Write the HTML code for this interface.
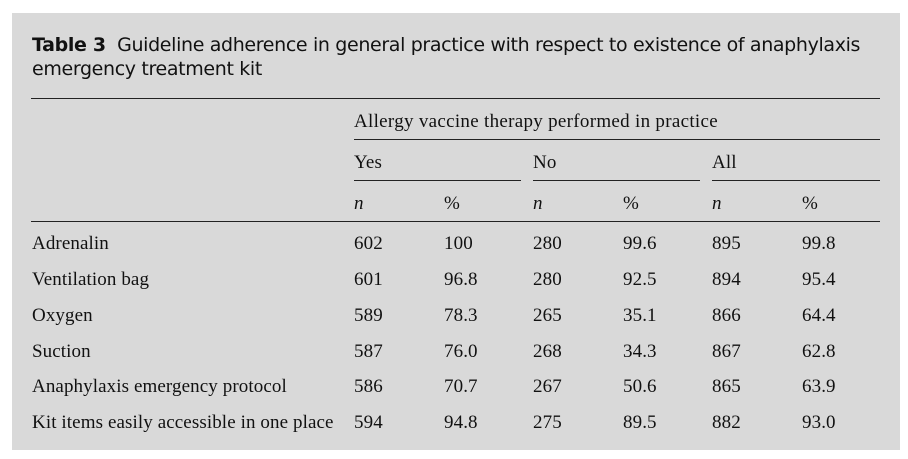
<!DOCTYPE html>
<html><head><style>
body{margin:0;background:#fff;width:908px;height:459px;position:relative;overflow:hidden}
#box{position:absolute;left:12px;top:13px;width:888px;height:437px;background:#d9d9d9}
.t{position:absolute;font-family:"Liberation Serif",serif;font-size:19px;letter-spacing:0.1px;color:#111;white-space:nowrap;line-height:1}
.h{position:absolute;font-family:"DejaVu Sans","Liberation Sans",sans-serif;font-size:19px;color:#111;white-space:nowrap;line-height:1;letter-spacing:-0.35px}
.l{position:absolute;height:1px;background:#222}
i{font-style:italic}
</style></head><body>
<div id="box"></div>
<div class="h" style="left:32px;top:36px"><b>Table 3</b>&nbsp; Guideline adherence in general practice with respect to existence of anaphylaxis</div>
<div class="h" style="left:32px;top:60px">emergency treatment kit</div>
<div class="l" style="left:31px;width:849px;top:98px"></div>
<div class="t" style="left:354px;top:112px;letter-spacing:0.3px">Allergy vaccine therapy performed in practice</div>
<div class="l" style="left:354px;width:526px;top:139px"></div>
<div class="t" style="left:354px;top:153px">Yes</div>
<div class="t" style="left:533px;top:153px">No</div>
<div class="t" style="left:712px;top:153px">All</div>
<div class="l" style="left:354px;width:167px;top:180px"></div>
<div class="l" style="left:533px;width:167px;top:180px"></div>
<div class="l" style="left:712px;width:168px;top:180px"></div>
<div class="t" style="left:354px;top:194px"><i>n</i></div>
<div class="t" style="left:444px;top:194px">%</div>
<div class="t" style="left:533px;top:194px"><i>n</i></div>
<div class="t" style="left:623px;top:194px">%</div>
<div class="t" style="left:712px;top:194px"><i>n</i></div>
<div class="t" style="left:802px;top:194px">%</div>
<div class="l" style="left:31px;width:849px;top:221px"></div>

<div class="t" style="left:32px;top:234px">Adrenalin</div>
<div class="t" style="left:354px;top:234px">602</div><div class="t" style="left:444px;top:234px">100</div><div class="t" style="left:533px;top:234px">280</div><div class="t" style="left:623px;top:234px">99.6</div><div class="t" style="left:712px;top:234px">895</div><div class="t" style="left:802px;top:234px">99.8</div>

<div class="t" style="left:32px;top:270px">Ventilation bag</div>
<div class="t" style="left:354px;top:270px">601</div><div class="t" style="left:444px;top:270px">96.8</div><div class="t" style="left:533px;top:270px">280</div><div class="t" style="left:623px;top:270px">92.5</div><div class="t" style="left:712px;top:270px">894</div><div class="t" style="left:802px;top:270px">95.4</div>

<div class="t" style="left:32px;top:306px">Oxygen</div>
<div class="t" style="left:354px;top:306px">589</div><div class="t" style="left:444px;top:306px">78.3</div><div class="t" style="left:533px;top:306px">265</div><div class="t" style="left:623px;top:306px">35.1</div><div class="t" style="left:712px;top:306px">866</div><div class="t" style="left:802px;top:306px">64.4</div>

<div class="t" style="left:32px;top:342px">Suction</div>
<div class="t" style="left:354px;top:342px">587</div><div class="t" style="left:444px;top:342px">76.0</div><div class="t" style="left:533px;top:342px">268</div><div class="t" style="left:623px;top:342px">34.3</div><div class="t" style="left:712px;top:342px">867</div><div class="t" style="left:802px;top:342px">62.8</div>

<div class="t" style="left:32px;top:377px">Anaphylaxis emergency protocol</div>
<div class="t" style="left:354px;top:377px">586</div><div class="t" style="left:444px;top:377px">70.7</div><div class="t" style="left:533px;top:377px">267</div><div class="t" style="left:623px;top:377px">50.6</div><div class="t" style="left:712px;top:377px">865</div><div class="t" style="left:802px;top:377px">63.9</div>

<div class="t" style="left:32px;top:413px">Kit items easily accessible in one place</div>
<div class="t" style="left:354px;top:413px">594</div><div class="t" style="left:444px;top:413px">94.8</div><div class="t" style="left:533px;top:413px">275</div><div class="t" style="left:623px;top:413px">89.5</div><div class="t" style="left:712px;top:413px">882</div><div class="t" style="left:802px;top:413px">93.0</div>
</body></html>
